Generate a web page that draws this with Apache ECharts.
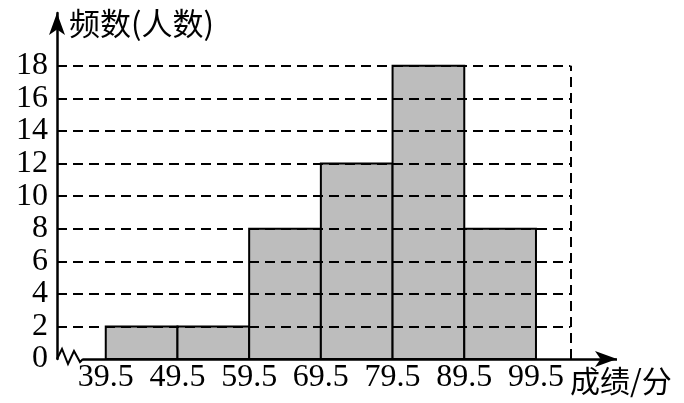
<!DOCTYPE html>
<html>
<head>
<meta charset="utf-8">
<script src="https://cdn.jsdelivr.net/npm/echarts@6/dist/echarts.min.js"></script>
<style>html,body{margin:0;padding:0;background:#fff}#c{width:684px;height:403px}</style>
</head>
<body>
<div id="c"></div>
<script>
// ---- data ----
const binEdges = [39.5, 49.5, 59.5, 69.5, 79.5, 89.5, 99.5];
const counts = [2, 2, 8, 12, 18, 8];
const yTicks = [0, 2, 4, 6, 8, 10, 12, 14, 16, 18];
const xTickLabels = ['39.5', '49.5', '59.5', '69.5', '79.5', '89.5', '99.5'];
const yTitle = '频数(人数)';
const xTitle = '成绩/分';

// ---- axis extents ----
const xMin = 32.7, xMax = 110.8, xFrame = 104.3, xAxisStart = 36.3;
const yMax = 21.24, yFrame = 18;

const chart = echarts.init(document.getElementById('c'), null, {renderer: 'canvas'});

const barData = counts.map((c, i) => [binEdges[i], binEdges[i + 1], c]);
const gridLines = yTicks.filter(v => v > 0).map(v => [{coord: [xMin, v]}, {coord: [xFrame, v]}]);
gridLines.push([{coord: [xFrame, 0]}, {coord: [xFrame, yFrame]}]);

const numFont = '"Liberation Serif", "Times New Roman", serif';
const cjkFont = '"Noto Sans CJK SC", sans-serif';

chart.setOption({
  animation: false,
  grid: {left: 57, right: 684 - 617, top: 13, bottom: 43, containLabel: false},
  xAxis: {
    type: 'value', min: xMin, max: xMax,
    axisLine: {show: false},
    axisTick: {show: false},
    splitLine: {show: false},
    axisLabel: {
      customValues: binEdges,
      formatter: v => xTickLabels[binEdges.indexOf(v)] || '',
      fontFamily: numFont, fontSize: 32, color: '#000', margin: 3
    },
    name: xTitle, nameLocation: 'end', nameGap: -47,
    nameTextStyle: {fontFamily: cjkFont, fontSize: 30, color: '#000', align: 'left', verticalAlign: 'top', lineHeight: 44}
  },
  yAxis: {
    type: 'value', min: 0, max: yMax,
    axisLine: {show: true, symbol: ['none', 'arrow'], symbolSize: [12, 22], lineStyle: {color: '#000', width: 2.5}},
    axisTick: {show: false},
    splitLine: {show: false},
    axisLabel: {customValues: yTicks, fontFamily: numFont, fontSize: 32, color: '#000', margin: 9},
    name: yTitle, nameLocation: 'end', nameGap: -10,
    nameTextStyle: {fontFamily: cjkFont, fontSize: 31, color: '#000', align: 'left', verticalAlign: 'middle', padding: [0, 0, 0, 12]}
  },
  series: [
    {
      type: 'line', data: [], z: 1, silent: true,
      markLine: {
        silent: true, symbol: ['none', 'none'], label: {show: false},
        lineStyle: {color: '#000', width: 2, type: [10, 6]},
        data: gridLines
      }
    },
    {
      type: 'custom', z: 2, silent: true,
      encode: {x: [0, 1], y: 2},
      data: barData,
      renderItem: function (params, api) {
        const p0 = api.coord([api.value(0), 0]);
        const p1 = api.coord([api.value(1), api.value(2)]);
        return {
          type: 'rect',
          shape: {x: p0[0], y: p1[1], width: p1[0] - p0[0], height: p0[1] - p1[1]},
          style: {fill: '#bdbdbd', stroke: '#000', lineWidth: 2}
        };
      }
    },
    {
      type: 'line', data: [], z: 3, silent: true,
      markLine: {
        silent: true, symbol: ['none', 'arrow'], symbolSize: [12, 22], label: {show: false},
        lineStyle: {color: '#000', width: 2.5, type: 'solid'},
        data: [[{coord: [xAxisStart, 0]}, {coord: [xMax, 0]}]]
      }
    }
  ]
});

// axis-break zigzag at the origin
const o = chart.convertToPixel({gridIndex: 0}, [xMin, 0]);
const zig = [[0, 0], [5, -10], [11, 5], [17, -8], [23, 3], [26, 0]];
chart.setOption({
  graphic: [{
    type: 'polyline', z: 10,
    shape: {points: zig.map(p => [o[0] + p[0], o[1] + p[1]])},
    style: {stroke: '#000', lineWidth: 2, fill: null}
  }]
});
</script>
</body>
</html>
